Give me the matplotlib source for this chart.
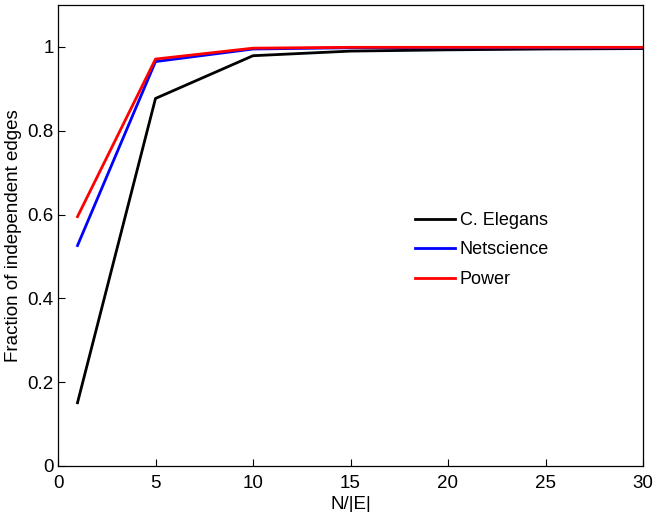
import matplotlib
matplotlib.use("Agg")
import matplotlib.pyplot as plt

x = [1, 5, 10, 15, 20, 25, 30]
c_elegans = [0.151, 0.877, 0.979, 0.990, 0.993, 0.995, 0.996]
netscience = [0.526, 0.965, 0.995, 0.998, 0.998, 0.998, 0.998]
power = [0.595, 0.971, 0.997, 0.999, 0.999, 0.999, 0.999]

plt.rcParams['font.family'] = ['Liberation Sans', 'DejaVu Sans']

fig = plt.figure(figsize=(6.54, 5.12), dpi=100)
ax = fig.add_axes([58/654, 1-466/512, (643-58)/654, (466-5)/512])

ax.plot(x, c_elegans, color='black', lw=2.0, label='C. Elegans')
ax.plot(x, netscience, color='blue', lw=2.0, label='Netscience')
ax.plot(x, power, color='red', lw=2.0, label='Power')

ax.set_xlim(0, 30)
ax.set_ylim(0, 1.1)
ax.set_xticks([0, 5, 10, 15, 20, 25, 30])
ax.set_yticks([0, 0.2, 0.4, 0.6, 0.8, 1.0])
ax.set_yticklabels(['0', '0.2', '0.4', '0.6', '0.8', '1'])
ax.tick_params(direction='in', labelsize=13.5, length=5, width=0.8, pad=3)
ax.tick_params(axis='x', pad=6.5)
for s in ax.spines.values():
    s.set_linewidth(0.9)

ax.set_xlabel('N/|E|', fontsize=13.5, labelpad=3)
ax.set_ylabel('Fraction of independent edges', fontsize=13.5, labelpad=4)

leg = ax.legend(loc='upper left', bbox_to_anchor=(0.610, 0.551), frameon=False,
                borderaxespad=0, borderpad=0,
                fontsize=13, handlelength=2.2, handletextpad=0.3, labelspacing=0.69)

fig.savefig('out.png', dpi=100)
